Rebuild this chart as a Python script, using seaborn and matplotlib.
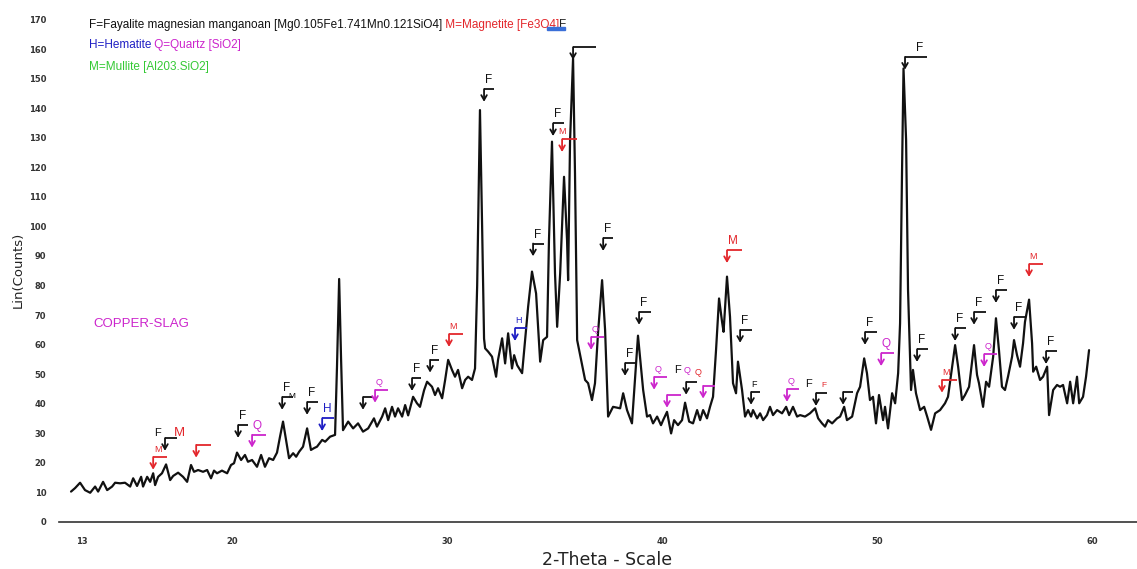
import matplotlib
matplotlib.use("Agg")
import matplotlib.pyplot as plt
from matplotlib.patches import Rectangle
from matplotlib.ticker import FixedLocator, MultipleLocator
import pandas as pd
import seaborn as sns

sns.set_style("white")
plt.rcParams['font.family'] = ['DejaVu Sans']

# -------------------------------------------------------------------
# Diffraction pattern (2-theta, Lin counts)
# -------------------------------------------------------------------
two_theta = [
    12.51, 12.70, 12.93, 13.16, 13.40, 13.63, 13.77, 14.00, 14.19, 14.42,
    14.56, 14.79, 15.02, 15.26, 15.40, 15.58, 15.77, 15.86, 16.05, 16.19,
    16.33, 16.42, 16.56, 16.74, 16.93, 17.12, 17.26, 17.49, 17.72, 17.91,
    18.09, 18.23, 18.42, 18.65, 18.84, 19.02, 19.16, 19.30, 19.53, 19.77,
    19.95, 20.09, 20.23, 20.42, 20.60, 20.74, 20.93, 21.16, 21.35, 21.53,
    21.72, 21.91, 22.09, 22.23, 22.37, 22.51, 22.65, 22.84, 22.98, 23.12,
    23.30, 23.49, 23.67, 23.81, 23.95, 24.19, 24.33, 24.56, 24.79, 24.88,
    24.98, 25.07, 25.16,
    25.40, 25.63, 25.86, 26.09, 26.33, 26.60, 26.74, 26.98, 27.12, 27.26,
    27.44, 27.58, 27.72, 27.91, 28.05, 28.19, 28.42, 28.60, 28.74, 28.93,
    29.07, 29.30, 29.44, 29.58, 29.77, 29.91, 30.05, 30.23, 30.37, 30.51,
    30.70, 30.84, 30.98, 31.16, 31.30, 31.40, 31.53, 31.63, 31.72, 31.77,
    31.91, 32.09, 32.28, 32.37, 32.56, 32.70, 32.84, 33.02, 33.12, 33.26,
    33.49, 33.67, 33.77, 33.95, 34.14, 34.33, 34.47, 34.65, 34.74, 34.88,
    35.02, 35.12, 35.26, 35.44, 35.58, 35.63, 35.72, 35.86, 35.95, 36.05,
    36.19, 36.42, 36.56, 36.74, 36.88, 37.02, 37.21, 37.35, 37.49, 37.72,
    38.05, 38.19, 38.37, 38.60, 38.74, 38.88,
    39.12, 39.30, 39.44, 39.58, 39.77, 39.95, 40.05, 40.23, 40.42, 40.56,
    40.74, 40.93, 41.07, 41.26, 41.44, 41.63, 41.77, 41.91, 42.09, 42.23,
    42.37, 42.51, 42.65, 42.79, 42.86, 43.02, 43.16, 43.30, 43.44, 43.53,
    43.72, 43.86, 44.00, 44.14, 44.23, 44.42, 44.56, 44.70, 44.88, 45.02,
    45.16, 45.35, 45.58, 45.77, 45.91, 46.09, 46.28, 46.42, 46.65, 46.88,
    47.12, 47.26, 47.44, 47.58, 47.72, 47.91, 48.14, 48.28, 48.47, 48.60,
    48.84, 49.07, 49.21, 49.40, 49.53, 49.67, 49.81, 49.95, 50.09, 50.28,
    50.37, 50.51, 50.70, 50.84, 50.98, 51.07, 51.16, 51.23, 51.35, 51.44,
    51.58, 51.67, 51.81, 52.00, 52.19, 52.33, 52.51, 52.70, 52.93, 53.16,
    53.30, 53.63, 53.77, 53.95, 54.09, 54.28, 54.51, 54.65, 54.74, 54.93,
    55.07, 55.21, 55.40, 55.53, 55.67, 55.81, 55.95, 56.09, 56.28, 56.37,
    56.51, 56.65, 56.79, 56.88, 57.07, 57.21, 57.26, 57.40, 57.58, 57.72,
    57.91, 58.00, 58.19, 58.37, 58.51, 58.65, 58.84, 58.98, 59.12, 59.30,
    59.40, 59.58, 59.72, 59.86,
]
counts = [
    10.2, 11.4, 13.2, 10.7, 9.8, 11.9, 10.2, 13.5, 10.7, 11.9,
    13.2, 13.0, 13.2, 11.9, 14.7, 12.1, 15.2, 11.9, 15.2, 13.5,
    16.4, 12.4, 15.2, 16.4, 19.4, 14.1, 15.5, 16.6, 15.2, 13.5,
    19.2, 16.9, 17.5, 16.9, 17.5, 14.7, 17.3, 16.4, 17.3, 16.4,
    19.2, 19.8, 23.4, 20.9, 22.6, 20.3, 20.9, 18.6, 22.6, 18.6,
    21.5, 20.9, 23.4, 28.8, 33.9, 27.7, 21.5, 23.2, 22.0, 23.7,
    25.4, 31.6, 24.3, 24.9, 25.4, 27.7, 27.1, 28.8, 29.4, 52.5,
    82.2, 55.0, 31.0,
    33.9, 31.6, 33.3, 30.5, 31.6, 35.0, 32.2, 35.6, 38.4, 34.4,
    38.9, 35.6, 38.4, 35.6, 39.5, 36.0, 42.3, 40.1, 38.9, 44.5,
    47.4, 45.7, 42.9, 45.2, 41.8, 48.0, 54.8, 51.4, 49.1, 51.4,
    45.2, 48.0, 49.1, 48.0, 51.9, 80.0, 139.4, 100.0, 62.0, 58.7,
    57.6, 55.9, 49.1, 54.8, 62.1, 53.6, 63.8, 51.9, 56.4, 53.0,
    50.3, 64.9, 72.8, 84.7, 77.3, 54.2, 61.5, 62.6, 95.4, 128.7,
    84.1, 66.0, 84.1, 116.8, 95.4, 81.8, 129.0, 156.9, 118.0, 61.5,
    56.4, 48.0, 46.9, 41.2, 46.9, 63.8, 81.8, 64.9, 35.6, 38.9,
    38.4, 43.5, 37.8, 33.3, 48.0, 63.0,
    44.6, 35.6, 36.1, 33.3, 35.6, 32.7, 34.4, 37.2, 29.9, 34.4,
    32.7, 34.4, 40.3, 33.9, 33.3, 37.8, 34.4, 37.8, 35.0, 38.9,
    42.3, 58.1, 75.6, 67.7, 64.3, 83.0, 69.4, 46.9, 43.5, 54.2,
    44.6, 35.6, 37.8, 35.6, 37.8, 35.0, 36.7, 34.4, 36.1, 38.9,
    36.1, 37.8, 36.7, 38.9, 36.1, 38.9, 35.6, 36.1, 35.6, 36.7,
    38.4, 35.0, 33.3, 32.2, 34.4, 33.3, 35.0, 35.6, 38.9, 34.4,
    35.6, 43.5, 45.7, 55.3, 50.3, 41.2, 42.3, 33.3, 42.9, 34.4,
    38.9, 31.6, 43.5, 40.1, 50.3, 67.2, 118.0, 153.5, 129.3, 78.5,
    44.6, 51.4, 43.5, 37.8, 38.9, 35.6, 31.1, 36.7, 37.8, 40.1,
    42.3, 59.8, 52.5, 41.2, 42.9, 45.7, 59.8, 49.7, 46.9, 38.9,
    47.4, 45.7, 55.9, 68.9, 58.1, 45.7, 44.6, 49.1, 55.9, 61.5,
    56.4, 52.5, 60.4, 67.7, 75.2, 60.4, 50.8, 52.5, 48.0, 49.1,
    52.5, 36.1, 44.6, 46.3, 45.7, 46.3, 40.1, 47.4, 40.1, 49.1,
    40.1, 42.3, 49.1, 58.1,
]

# -------------------------------------------------------------------
# Phase markers: peak position, top of the bent arrow, phase, label
# -------------------------------------------------------------------
mk_theta = [16.33, 16.88, 18.33, 20.28, 20.93, 22.33, 23.49, 24.19, 26.09, 26.65,
            28.37, 29.21, 30.09, 31.72, 33.16, 34.00, 34.93, 35.35, 35.86, 36.70,
            37.26, 38.28, 38.93, 39.63, 40.23, 41.12, 41.91, 43.02, 43.63, 44.14,
            45.81, 47.16, 48.42, 49.44, 50.19, 51.30, 51.86, 53.02, 53.63, 54.51,
            54.98, 55.53, 56.37, 57.07, 57.86]
mk_top = [21.9, 28.3, 26.0, 32.7, 29.4, 42.2, 40.5, 35.0, 42.2, 44.6,
          48.6, 54.8, 63.5, 146.5, 65.5, 94.2, 134.9, 129.5, 160.7, 62.5,
          96.0, 53.7, 71.0, 49.0, 42.9, 47.3, 46.0, 91.9, 64.9, 43.9,
          44.9, 43.5, 43.9, 64.2, 57.0, 157.4, 58.4, 48.0, 65.5, 71.0,
          56.7, 78.4, 69.3, 87.2, 57.7]
mk_phase = ['M', 'F', 'M', 'F', 'Q', 'F', 'F', 'H', 'F', 'Q',
            'F', 'F', 'M', 'F', 'H', 'F', 'F', 'M', 'F', 'Q',
            'F', 'F', 'F', 'Q', 'Q', 'F', 'Q', 'M', 'F', 'F',
            'Q', 'F', 'F', 'F', 'Q', 'F', 'F', 'M', 'F', 'F',
            'Q', 'F', 'F', 'M', 'F']
mk_label = ['M', '', '', 'F', 'Q', 'F', 'F', 'H', '', 'Q',
            'F', 'F', 'M', 'F', 'H', 'F', 'F', 'M', '', 'Q',
            'F', 'F', 'F', 'Q', '', '', '', 'M', 'F', 'F',
            'Q', '', '', 'F', 'Q', 'F', 'F', 'M', 'F', 'F',
            'Q', 'F', 'F', 'M', 'F']
mk_small = [1, 0, 0, 0, 0, 0, 0, 0, 0, 1,
            0, 0, 1, 0, 1, 0, 0, 1, 0, 1,
            0, 0, 0, 1, 0, 0, 0, 0, 0, 1,
            1, 0, 0, 0, 0, 0, 0, 1, 0, 0,
            1, 0, 0, 1, 0]
mk_len = [0.65, 0.56, 0.70, 0.47, 0.65, 0.51, 0.51, 0.56, 0.47, 0.60,
          0.42, 0.42, 0.65, 0.47, 0.56, 0.51, 0.51, 0.70, 1.07, 0.60,
          0.47, 0.51, 0.56, 0.60, 0.65, 0.51, 0.56, 0.70, 0.56, 0.42,
          0.56, 0.51, 0.47, 0.56, 0.60, 1.02, 0.51, 0.70, 0.51, 0.56,
          0.60, 0.51, 0.51, 0.65, 0.51]

# loose letters that overlap neighbouring markers
free_theta = [16.51, 17.55, 22.78, 40.70, 41.16, 41.67, 46.79, 47.53]
free_counts = [30.0, 30.0, 42.4, 51.4, 51.1, 50.4, 46.6, 46.0]
free_text = ['F', 'M', 'M', 'F', 'Q', 'Q', 'F', 'F']
free_phase = ['F', 'M', 'F', 'F', 'Q', 'M', 'F', 'M']
free_size = [8, 9.5, 6, 8, 6.5, 6.5, 8, 6]

phase_colors = {'F': '#111111', 'M': '#e3262b', 'H': '#1f1fc4',
                'Q': '#cc25cc', 'Mu': '#35c935'}

# -------------------------------------------------------------------
# Plot
# -------------------------------------------------------------------
W, H = 1137, 569
fig = plt.figure(figsize=(W / 100, H / 100), dpi=100)
ax = fig.add_axes([59 / W, 47.3 / H, 1078 / W, 519.7 / H])

df = pd.DataFrame({'theta': two_theta, 'counts': counts})
sns.lineplot(data=df, x='theta', y='counts', color='#111111', linewidth=1.6, ax=ax)

ax.set_xlim(11.95, 62.09)
ax.set_ylim(0, 176)

# phase markers
arrow_len = 4.3
for t, top, ph, lab, sm, ln in zip(mk_theta, mk_top, mk_phase, mk_label, mk_small, mk_len):
    c = phase_colors[ph]
    ax.plot([t, t + ln], [top, top], color=c, lw=1.3, solid_capstyle='butt')
    ax.annotate('', xy=(t, top - arrow_len), xytext=(t, top),
                arrowprops=dict(arrowstyle='->,head_length=0.35,head_width=0.2',
                                color=c, lw=1.3, shrinkA=0, shrinkB=0))
    if lab:
        dx = 0.5 if ln > 1 else 0.03
        if ph == 'M' and t == 35.35:
            dx = -0.2
        ax.text(t + dx, top + 1.0, lab, color=c, fontsize=6.5 if sm else 8.5,
                ha='left', va='bottom', family='Liberation Sans')

for t, cnt, txt, ph, fs in zip(free_theta, free_counts, free_text, free_phase, free_size):
    ax.text(t, cnt, txt, color=phase_colors[ph], fontsize=fs, ha='center', va='center',
            family='Liberation Sans')

# axes styling
for side in ['top', 'right']:
    ax.spines[side].set_visible(False)
ax.spines['left'].set_position(('data', 12.42))
ax.spines['left'].set_color('none')
ax.spines['bottom'].set_color('#333333')
ax.spines['bottom'].set_linewidth(1.2)

ax.xaxis.set_major_locator(FixedLocator([13, 20, 30, 40, 50, 60]))
ax.xaxis.set_minor_locator(MultipleLocator(1))
ax.yaxis.set_major_locator(MultipleLocator(10))
ax.yaxis.set_minor_locator(MultipleLocator(5))
ax.tick_params(axis='x', which='major', direction='out', length=6, width=1.1,
               color='#333333', labelsize=6, pad=5)
ax.tick_params(axis='x', which='minor', direction='out', length=4, width=1.0, color='#333333')
ax.tick_params(axis='y', which='major', direction='out', length=7.5, width=1.2,
               color='#333333', labelsize=6, pad=9)
ax.tick_params(axis='y', which='minor', direction='out', length=4.5, width=1.1, color='#333333')
for lbl in ax.get_xticklabels() + ax.get_yticklabels():
    lbl.set_fontweight('bold')
    lbl.set_color('#333333')

ax.set_xlabel('2-Theta - Scale', fontsize=12.5, color='#222222')
ax.xaxis.set_label_coords(0.508, -0.057)
ax.set_ylabel('Lin(Counts)', fontsize=9.5, color='#222222')
ax.yaxis.set_label_coords(-0.032, 0.484)

# legend lines in the top-left corner
leg_font = dict(fontsize=8.5, family='Liberation Sans', va='center')
t1 = fig.text(89 / W, 1 - 25 / H, 'F=Fayalite magnesian manganoan [Mg0.105Fe1.741Mn0.121SiO4]',
              color=phase_colors['F'], **leg_font)
t1b = ax.annotate(' M=Magnetite [Fe3O4]', xy=(1, 0.5), xycoords=t1, color=phase_colors['M'],
                  ha='left', **leg_font)
ax.annotate('F', xy=(1, 0.5), xycoords=t1b, color='#222222', ha='left', **leg_font)
fig.patches.append(Rectangle((547 / W, 1 - 30 / H), 18 / W, 3 / H, color='#3a6fd8',
                             transform=fig.transFigure, figure=fig, zorder=0))
t2 = fig.text(89 / W, 1 - 45 / H, 'H=Hematite', color=phase_colors['H'], **leg_font)
ax.annotate(' Q=Quartz [SiO2]', xy=(1, 0.5), xycoords=t2, color=phase_colors['Q'],
            ha='left', **leg_font)
fig.text(89 / W, 1 - 67 / H, 'M=Mullite [Al203.SiO2]', color=phase_colors['Mu'], **leg_font)

fig.text(93 / W, 1 - 324 / H, 'COPPER-SLAG', color=phase_colors['Q'], fontsize=9.5,
         family='Liberation Sans', va='center')

fig.savefig('out.png', dpi=100)
